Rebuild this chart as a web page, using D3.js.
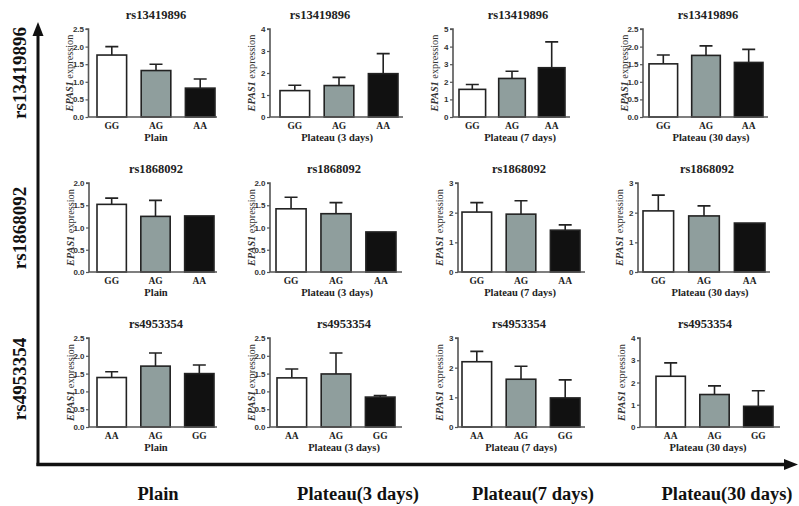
<!DOCTYPE html>
<html><head><meta charset="utf-8">
<script src="https://cdn.jsdelivr.net/npm/d3@7"></script>
<style>
html,body{margin:0;padding:0;background:#fff;}
svg{display:block;}
</style></head>
<body>
<svg id="chart" width="799" height="506"></svg>
<script>
// ---------- data ----------
const snps = ["rs13419896", "rs1868092", "rs4953354"];
const conditions = ["Plain", "Plateau (3 days)", "Plateau (7 days)", "Plateau (30 days)"];
const bottomLabels = ["Plain", "Plateau(3 days)", "Plateau(7 days)", "Plateau(30 days)"];
const genotypes = [["GG", "AG", "AA"], ["GG", "AG", "AA"], ["AA", "AG", "GG"]];
const yLabelItalic = "EPAS1";
const yLabelRest = " expression";

// mean expression per condition (rows = conditions, cols = genotype order)
const mean_rs13419896 = [[1.76, 1.32, 0.82], [1.20, 1.43, 1.97], [1.57, 2.19, 2.80], [1.51, 1.75, 1.55]];
const err_rs13419896  = [[2.00, 1.50, 1.08], [1.44, 1.80, 2.88], [1.85, 2.60, 4.27], [1.76, 2.02, 1.92]];
const mean_rs1868092  = [[1.52, 1.25, 1.26], [1.42, 1.31, 0.90], [2.02, 1.95, 1.41], [2.06, 1.89, 1.65]];
const err_rs1868092   = [[1.66, 1.61, null], [1.68, 1.56, null], [2.34, 2.40, 1.59], [2.59, 2.23, null]];
const mean_rs4953354  = [[1.39, 1.71, 1.50], [1.38, 1.49, 0.84], [2.20, 1.61, 0.98], [2.28, 1.46, 0.93]];
const err_rs4953354   = [[1.55, 2.08, 1.74], [1.63, 2.08, 0.88], [2.55, 2.05, 1.59], [2.88, 1.85, 1.63]];

const yMax  = [[2.5, 4, 5, 2.5], [2, 2, 3, 3], [2.5, 2.5, 3, 4]];
const yStep = [[0.5, 1, 1, 0.5], [0.5, 0.5, 1, 1], [0.5, 0.5, 1, 1]];

const means = [mean_rs13419896, mean_rs1868092, mean_rs4953354];
const errs  = [err_rs13419896, err_rs1868092, err_rs4953354];

// ---------- layout (positions only) ----------
const rowY = [[29, 117], [183, 272], [338, 427]];
// axisX, axisEnd, firstBarLeft, lastBarRight, titleCx, labelCx
const panelX = [
  [[88.5, 217, 97, 215, 156, 156], [270, 403, 280, 398, 320, 337], [453, 570, 459, 565, 518, 520], [643, 768, 649, 763, 708, 711]],
  [[89, 217, 97, 214, 156, 156], [270, 402, 276, 396, 334, 337], [458, 585, 462, 580, 519, 520], [638, 770, 643, 765, 707, 710]],
  [[89, 217, 97, 214, 156, 156], [270, 402, 277, 395, 344, 344], [458, 585, 462, 580, 519, 521], [640, 780, 656, 773, 705, 708]]
];
const barColors = ["#ffffff", "#8f9e9d", "#111111"];
const serif = "'Liberation Serif','Times New Roman',serif";
const sans = "'Liberation Sans',Arial,sans-serif";

const svg = d3.select("#chart");

// ---------- panels ----------
snps.forEach((snp, r) => {
  const [yTop, yBot] = rowY[r];
  conditions.forEach((cond, c) => {
    const [ax, ae, b0, b1, tcx, lcx] = panelX[r][c];
    const g = svg.append("g");
    const x = d3.scaleBand().domain(genotypes[r]).range([b0, b1]).paddingInner(0.33).paddingOuter(0);
    const y = d3.scaleLinear().domain([0, yMax[r][c]]).range([yBot, yTop]);
    const tickVals = d3.range(0, yMax[r][c] + 1e-9, yStep[r][c]);
    const fmt = yStep[r][c] < 1 ? d3.format(".1f") : d3.format("d");

    // y axis
    const yAxis = d3.axisLeft(y).tickValues(tickVals).tickFormat(fmt).tickSize(3).tickPadding(1.5);
    const ya = g.append("g").attr("transform", `translate(${ax},0)`).call(yAxis);
    ya.select(".domain").attr("stroke", "#555").attr("stroke-width", 1.6).attr("d", `M-3,${yTop}H0V${yBot}`);
    ya.selectAll(".tick line").attr("stroke", "#555").attr("stroke-width", 1.2);
    ya.selectAll(".tick text").attr("font-family", sans).attr("font-weight", "bold")
      .attr("font-size", 8).attr("fill", "#333");

    const data = genotypes[r].map((gt, i) => ({gt, i, v: means[r][c][i], e: errs[r][c][i]}));
    // error bars (upper only)
    g.selectAll(".err").data(data.filter(d => d.e != null)).enter().append("path")
      .attr("d", d => {
        const cx = x(d.gt) + x.bandwidth() / 2;
        return `M${cx},${y(d.v)}V${y(d.e)}M${cx - 6.5},${y(d.e)}H${cx + 6.5}`;
      })
      .attr("stroke", "#222").attr("stroke-width", 1.6).attr("fill", "none");
    // bars
    g.selectAll(".bar").data(data).enter().append("rect")
      .attr("x", d => x(d.gt)).attr("width", x.bandwidth())
      .attr("y", d => y(d.v)).attr("height", d => yBot - y(d.v))
      .attr("fill", d => barColors[d.i]).attr("stroke", "#222").attr("stroke-width", 1.6);

    // x axis line
    g.append("line").attr("x1", ax).attr("x2", ae).attr("y1", yBot).attr("y2", yBot)
      .attr("stroke", "#555").attr("stroke-width", 1.6);
    // x tick labels
    g.selectAll(".xt").data(genotypes[r]).enter().append("text")
      .attr("x", d => x(d) + x.bandwidth() / 2).attr("y", yBot + 12)
      .attr("text-anchor", "middle").attr("font-family", serif).attr("font-weight", "bold")
      .attr("font-size", 9.5).attr("fill", "#222").text(d => d);
    // x axis title
    g.append("text").attr("x", lcx).attr("y", yBot + 24).attr("text-anchor", "middle")
      .attr("font-family", serif).attr("font-weight", "bold").attr("font-size", 10.5)
      .attr("fill", "#222").text(cond);
    // panel title
    g.append("text").attr("x", tcx).attr("y", yTop - 10).attr("text-anchor", "middle")
      .attr("font-family", serif).attr("font-weight", "bold").attr("font-size", 12.5)
      .attr("fill", "#222").text(snp);
    // y axis title
    const yt = g.append("text")
      .attr("transform", `translate(${ax - 15.5},${(yTop + yBot) / 2}) rotate(-90)`)
      .attr("text-anchor", "middle").attr("font-family", serif).attr("font-size", 10.3).attr("fill", "#333");
    yt.append("tspan").attr("font-style", "italic").attr("font-weight", "bold").text(yLabelItalic);
    yt.append("tspan").text(yLabelRest);
  });
});

// ---------- big arrows ----------
svg.append("line").attr("x1", 38).attr("x2", 38).attr("y1", 466).attr("y2", 34)
  .attr("stroke", "#111").attr("stroke-width", 3);
svg.append("path").attr("d", "M38,22L32.5,36L43.5,36Z").attr("fill", "#111");
svg.append("line").attr("x1", 36.5).attr("x2", 786).attr("y1", 464.5).attr("y2", 464.5)
  .attr("stroke", "#111").attr("stroke-width", 3.5);
svg.append("path").attr("d", "M798,464.5L784,459L784,470Z").attr("fill", "#111");

// row labels
const rowLabelCy = [73, 228, 379];
snps.forEach((s, r) => {
  svg.append("text").attr("transform", `translate(26,${rowLabelCy[r]}) rotate(-90)`)
    .attr("text-anchor", "middle").attr("font-family", serif).attr("font-weight", "bold")
    .attr("font-size", 19).attr("fill", "#111").text(s);
});
// bottom labels
const bottomCx = [158, 358, 533, 727];
bottomLabels.forEach((t, i) => {
  svg.append("text").attr("x", bottomCx[i]).attr("y", 500).attr("text-anchor", "middle")
    .attr("font-family", serif).attr("font-weight", "bold").attr("font-size", 18.5)
    .attr("fill", "#111").text(t);
});
</script>
</body></html>
